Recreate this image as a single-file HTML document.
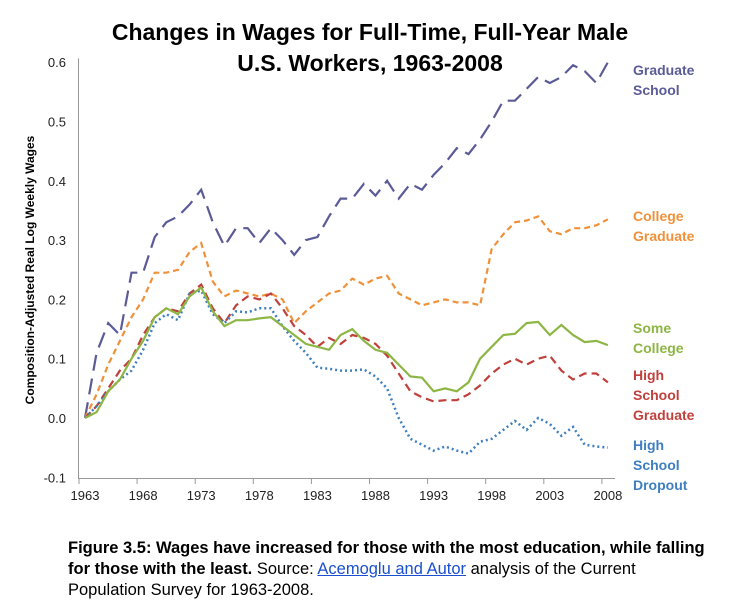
<!DOCTYPE html>
<html><head><meta charset="utf-8"><style>
body{margin:0;background:#fff;width:732px;height:606px;overflow:hidden;font-family:"Liberation Sans",sans-serif}
svg{position:absolute;left:0;top:0}
.cap{position:absolute;left:68px;top:538px;width:640px;font-size:16.5px;line-height:21px;color:#000}
.cap a{color:#1a4fd0;text-decoration:underline}
</style></head><body>
<svg width="732" height="530" id="chart"></svg>
<div class="cap"><b>Figure 3.5: Wages have increased for those with the most education, while falling for those with the least.</b> Source: <a>Acemoglu and Autor</a> analysis of the Current<br>Population Survey for 1963-2008.</div>
<script>
const years=[];for(let y=1963;y<=2008;y++)years.push(y);
const xTickLabels=["1963","1968","1973","1978","1983","1988","1993","1998","2003","2008"];
const yTickValues=[-0.1,0.0,0.1,0.2,0.3,0.4,0.5,0.6];
const graduate=[0,0.11,0.16,0.14,0.245,0.245,0.305,0.33,0.34,0.36,0.385,0.33,0.29,0.32,0.32,0.295,0.32,0.3,0.275,0.3,0.305,0.34,0.37,0.37,0.395,0.375,0.4,0.37,0.395,0.385,0.41,0.43,0.455,0.445,0.47,0.5,0.535,0.535,0.555,0.575,0.565,0.575,0.595,0.585,0.565,0.6];
const college=[0,0.04,0.09,0.13,0.17,0.2,0.245,0.245,0.25,0.28,0.295,0.23,0.205,0.215,0.21,0.205,0.21,0.2,0.16,0.18,0.195,0.21,0.215,0.235,0.225,0.235,0.24,0.21,0.2,0.19,0.195,0.2,0.195,0.195,0.19,0.285,0.31,0.33,0.333,0.34,0.315,0.31,0.32,0.32,0.325,0.335];
const someCollege=[0,0.01,0.045,0.065,0.1,0.13,0.17,0.185,0.175,0.205,0.22,0.18,0.155,0.165,0.165,0.168,0.17,0.155,0.14,0.125,0.12,0.115,0.14,0.15,0.13,0.115,0.11,0.09,0.07,0.068,0.045,0.05,0.045,0.06,0.1,0.12,0.14,0.142,0.16,0.162,0.14,0.157,0.14,0.128,0.13,0.123];
const hsGrad=[0,0.02,0.05,0.08,0.1,0.14,0.17,0.185,0.18,0.21,0.225,0.185,0.16,0.19,0.205,0.2,0.21,0.185,0.155,0.14,0.12,0.135,0.125,0.14,0.135,0.125,0.105,0.075,0.045,0.035,0.028,0.03,0.03,0.04,0.055,0.075,0.09,0.1,0.09,0.1,0.105,0.08,0.065,0.075,0.075,0.06];
const dropout=[0,0.02,0.045,0.065,0.08,0.115,0.16,0.175,0.165,0.21,0.215,0.175,0.16,0.18,0.178,0.185,0.185,0.155,0.13,0.11,0.085,0.083,0.08,0.08,0.082,0.07,0.05,0.0,-0.035,-0.045,-0.055,-0.048,-0.055,-0.06,-0.04,-0.035,-0.02,-0.005,-0.02,0.0,-0.01,-0.03,-0.015,-0.045,-0.048,-0.05];
const NS="http://www.w3.org/2000/svg";
const svg=document.getElementById('chart');
const X=i=>85+i*11.62;
const Y=v=>418-v*593;
function mk(t,a,txt){const e=document.createElementNS(NS,t);for(const k in a)e.setAttribute(k,a[k]);if(txt!==undefined)e.textContent=txt;svg.appendChild(e);return e;}
let e;
e=mk('text',{x:370,y:40,'text-anchor':'middle','font-size':'23','font-weight':'bold'},'Changes in Wages for Full-Time, Full-Year Male');

e=mk('text',{x:370,y:71,'text-anchor':'middle','font-size':'23','font-weight':'bold'},'U.S. Workers, 1963-2008');

e=mk('line',{x1:78.5,y1:Y(0.6)-4,x2:78.5,y2:478.5,stroke:'#999','stroke-width':1});

e=mk('line',{x1:78,y1:478.5,x2:615,y2:478.5,stroke:'#999','stroke-width':1});

yTickValues.forEach(v=>{
  e=mk('text',{x:66,y:Y(v)+5,'text-anchor':'end','font-size':'13',fill:'#222'},v.toFixed(1));
  
});
xTickLabels.forEach((l,k)=>{
  const i=years.indexOf(+l);
  e=mk('line',{x1:79+i*11.62,y1:478,x2:79+i*11.62,y2:484,stroke:'#999'});
  
  e=mk('text',{x:X(i),y:500,'text-anchor':'middle','font-size':'13',fill:'#222'},l);
  
});
e=mk('text',{x:0,y:0,transform:'translate(34,270) rotate(-90)','text-anchor':'middle','font-size':'12','font-weight':'bold'},'Composition-Adjusted Real Log Weekly Wages');

const series=[
 [graduate,'#5b5b97','16 8',2.2,'graduate-school-line'],
 [college,'#f0913a','6 4',2.2,'college-graduate-line'],
 [hsGrad,'#c0403c','8 5',2.2,'high-school-graduate-line'],
 [dropout,'#3f7fc0','2 3',2.5,'high-school-dropout-line'],
 [someCollege,'#8db645','',2.2,'some-college-line']];
series.forEach(s=>{
  const d=s[0].map((v,i)=>(i?'L':'M')+X(i).toFixed(1)+' '+Y(v).toFixed(1)).join(' ');
  e=mk('path',{d:d,fill:'none',stroke:s[1],'stroke-width':s[3],'stroke-dasharray':s[2]});
  
});
const legend=[[['Graduate','School'],'#5b5b97',75,'legend-graduate-school'],[['College','Graduate'],'#f0913a',221,'legend-college-graduate'],[['Some','College'],'#8db645',333,'legend-some-college'],[['High','School','Graduate'],'#c0403c',380,'legend-high-school-graduate'],[['High','School','Dropout'],'#3f7fc0',450,'legend-high-school-dropout']];
legend.forEach(l=>{
  l[0].forEach((t,j)=>{
    e=mk('text',{x:633,y:l[2]+j*20,'font-size':'14','font-weight':'bold',fill:l[1]},t);
    
  });
});
</script>
</body></html>
